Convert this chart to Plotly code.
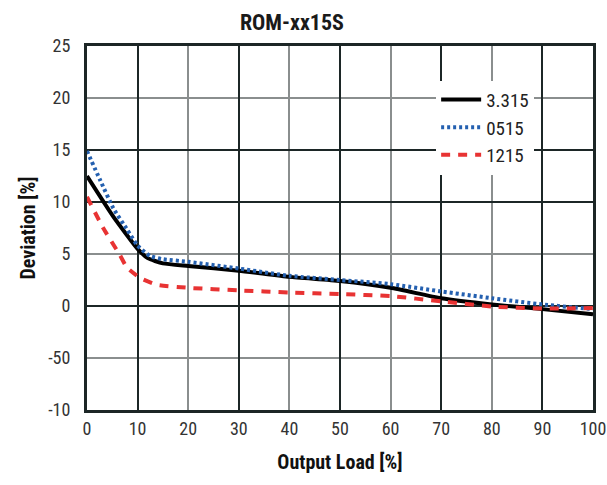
import plotly.graph_objects as go

load_black = [0, 5.2, 10, 12, 15, 20, 30, 40, 50, 60, 70, 80, 90, 100]
dev_3315 = [12.5, 8.6, 5.5, 4.6, 4.1, 3.85, 3.4, 2.8, 2.4, 1.75, 0.75, 0.15, -0.3, -0.8]

load_blue = [0, 2.6, 5.2, 8, 10, 12.5, 15, 20, 30, 40, 50, 60, 70, 80, 90, 100]
dev_0515 = [14.9, 12.1, 9.4, 7.3, 5.8, 4.8, 4.5, 4.25, 3.6, 2.9, 2.5, 2.1, 1.4, 0.75, 0.15, -0.3]

load_red = [0, 3.2, 6.5, 7.9, 10.5, 13.8, 20, 30, 40, 50, 60, 70, 80, 90, 100]
dev_1215 = [10.5, 7.5, 4.9, 3.7, 2.7, 2.05, 1.75, 1.5, 1.3, 1.15, 0.95, 0.45, -0.05, -0.25, -0.2]

x_ticks = [0, 10, 20, 30, 40, 50, 60, 70, 80, 90, 100]
y_ticks = [25, 20, 15, 10, 5, 0, -5, -10]
y_ticktext = ["25", "20", "15", "10", "5", "0", "-50", "-10"]
x_grid_dark = [10, 30, 50, 70, 90]
x_grid_gray = [20, 40, 60, 80]
y_grid_dark = [15, 10, 0]
y_grid_gray = [20, 5, -5]

FONT = "Liberation Sans Narrow, Roboto Condensed, Roboto, sans-serif"
DARK = "#1c2626"
GRAY = "#8a8e8e"

fig = go.Figure()
fig.add_trace(go.Scatter(x=load_black, y=dev_3315, name="3.315", mode="lines",
                         line=dict(color="#000000", width=4, shape="spline", smoothing=0.5)))
fig.add_trace(go.Scatter(x=load_blue, y=dev_0515, name="0515", mode="lines",
                         line=dict(color="#2460b0", width=4, dash="3px,3px", shape="spline", smoothing=0.5)))
fig.add_trace(go.Scatter(x=load_red, y=dev_1215, name="1215", mode="lines",
                         line=dict(color="#e83333", width=4, dash="9px,8px", shape="spline", smoothing=0.5)))
# empty helper trace so the overlay grid axes exist
fig.add_trace(go.Scatter(x=[], y=[], xaxis="x2", yaxis="y2", showlegend=False, hoverinfo="skip"))

fig.update_layout(
    width=607, height=485,
    margin=dict(l=87, r=14, t=46, b=75, autoexpand=False),
    paper_bgcolor="white", plot_bgcolor="white",
    font=dict(family=FONT, color="#222222", size=18),
    title=dict(text="<b>ROM-xx15S</b>", x=0.405, xref="paper", xanchor="center",
               y=0.955, yref="container", yanchor="middle",
               font=dict(family=FONT, size=22, color="#1a1a1a")),
    xaxis=dict(range=[0, 100], tickvals=x_ticks, showgrid=False, zeroline=False, automargin=False,
               showline=True, linecolor=DARK, linewidth=3, mirror=True,
               ticks="", tickfont=dict(size=18, color="#333333"), ticklabeloverflow="allow",
               minor=dict(tickvals=x_grid_gray, showgrid=True, gridcolor=GRAY, gridwidth=2, ticks=""),
               title=dict(text="<b>Output Load [%]</b>", font=dict(size=20, color="#111111"), standoff=18)),
    yaxis=dict(range=[-10, 25], tickvals=y_ticks, ticktext=y_ticktext, showgrid=False, zeroline=False,
               showline=True, linecolor=DARK, linewidth=3, mirror=True, automargin=False,
               ticks="outside", ticklen=10, tickcolor="white", tickfont=dict(size=18, color="#333333"),
               minor=dict(tickvals=y_grid_gray, showgrid=True, gridcolor=GRAY, gridwidth=2, ticks=""),
               title=dict(text="<b>Deviation [%]</b>", font=dict(size=20, color="#111111"), standoff=8)),
    xaxis2=dict(range=[0, 100], overlaying="x", anchor="y2", tickvals=x_grid_dark,
                showticklabels=False, ticks="", showgrid=True, gridcolor=DARK, gridwidth=1.5,
                zeroline=False, showline=False),
    yaxis2=dict(range=[-10, 25], overlaying="y", anchor="x2", tickvals=y_grid_dark,
                showticklabels=False, ticks="", showgrid=True, gridcolor=DARK, gridwidth=1.5,
                zeroline=False, showline=False),
    legend=dict(x=0.69, y=0.905, xanchor="left", yanchor="top", bgcolor="white",
                font=dict(size=19, color="#222222"), tracegroupgap=0, itemwidth=40),
)

fig.write_html("out.html")
